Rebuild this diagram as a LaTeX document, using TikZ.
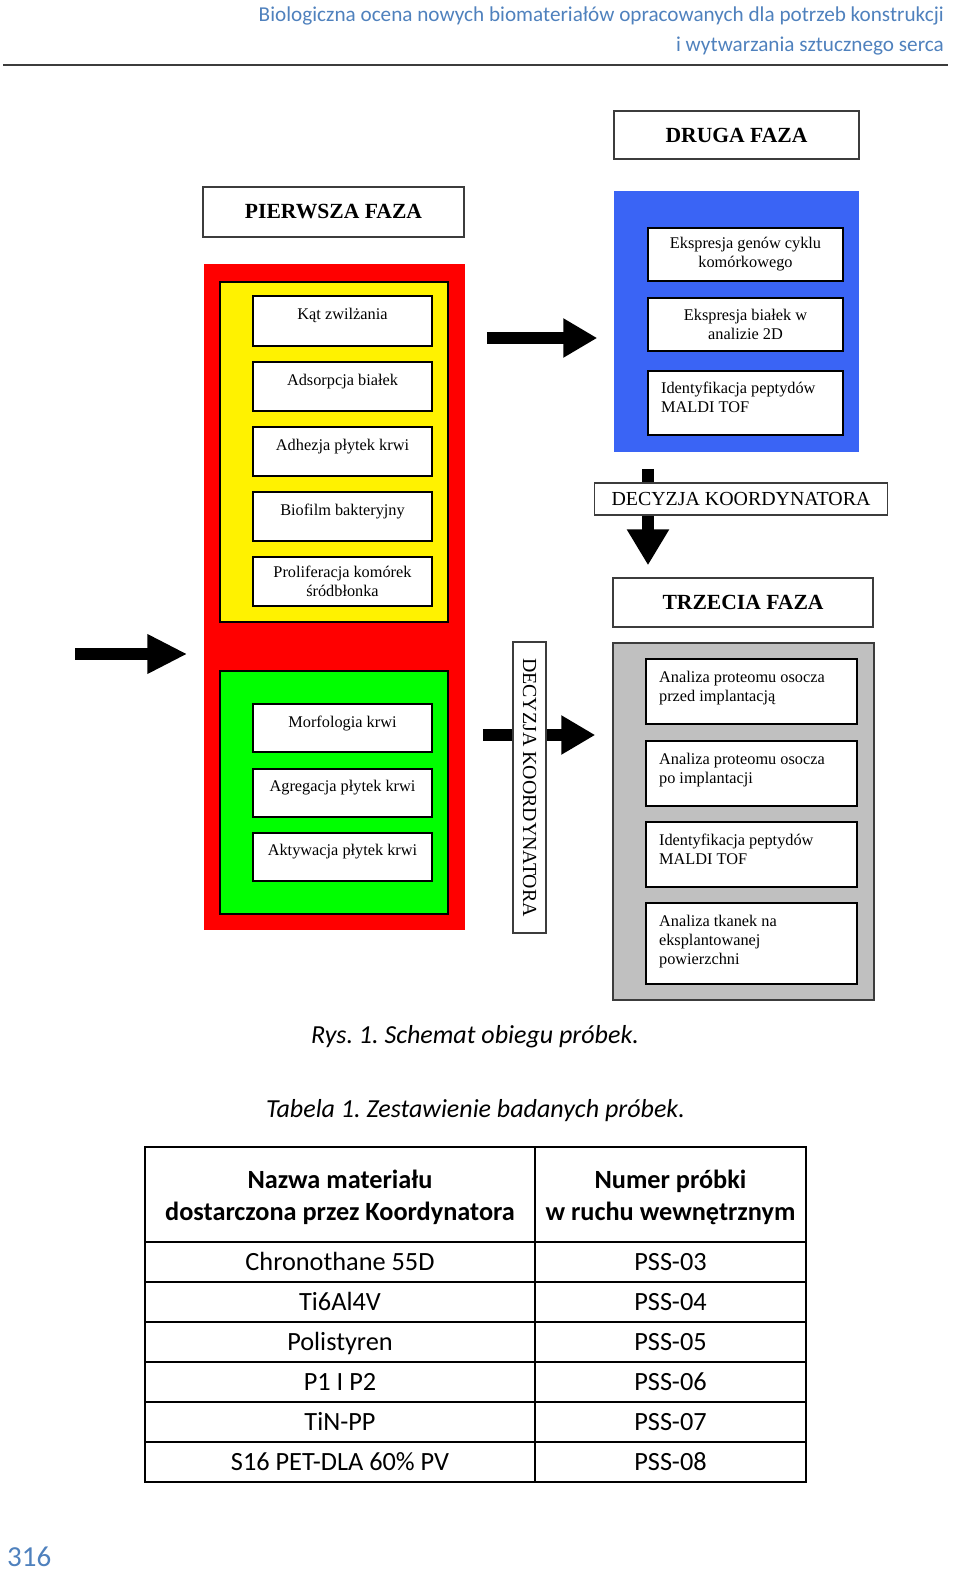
\documentclass[tikz,border=0pt]{standalone}
\usepackage{fontspec}
\setmainfont{Liberation Serif}
\newfontfamily\calibfont{Carlito}
\usetikzlibrary{arrows.meta,positioning}
\frenchspacing

\definecolor{hdrblue}{RGB}{79,129,189}
\definecolor{phaseblue}{RGB}{58,100,245}
\definecolor{phasegray}{RGB}{192,192,192}
\definecolor{edgegray}{RGB}{60,60,60}

\begin{document}
\begin{tikzpicture}[x=1pt,y=-1pt,
    phase/.style={draw=edgegray,line width=1.5pt,fill=white,inner sep=0pt,font=\fontsize{21.6}{24}\selectfont\bfseries},
    panel/.style={line width=1.5pt,inner sep=0pt},
    inbox/.style={draw,line width=2.2pt,fill=white,inner sep=2pt,font=\fontsize{16.3}{19}\selectfont,align=center},
    boxtext/.style={inner sep=0pt,font=\fontsize{16.3}{19}\selectfont},
    decision/.style={draw=edgegray,line width=1.5pt,fill=white,inner sep=2pt,font=\fontsize{19.9}{22}\selectfont},
    blockarrow/.style={line width=12pt,-{Triangle[length=34pt,width=37pt]}},
    hdr/.style={inner sep=0pt,text=hdrblue,font=\calibfont\fontsize{21.2}{24}\selectfont},
    tabtext/.style={inner sep=0pt,font=\calibfont\fontsize{26.3}{32}\selectfont,align=center}]

  \useasboundingbox (0,0) rectangle (960,1581);

  % page header
  \node[hdr,anchor=base east] (hdr1) at (944,22) {Biologiczna ocena nowych biomateriałów opracowanych dla potrzeb konstrukcji};
  \node[hdr,anchor=base east] (hdr2) at (944,52) {i wytwarzania sztucznego serca};
  \draw[edgegray,line width=2pt] (3,65) -- (948,65);

  % first phase
  \node[phase,minimum width=261pt,minimum height=50pt] (faza1) at (333.5,212) {PIERWSZA FAZA};
  \node[panel,fill=red,minimum width=261pt,minimum height=666pt] (red) at (334.5,597) {};
  \node[panel,draw,fill=yellow,minimum width=228pt,minimum height=340pt] (yellow) at (334,452) {};
  \node[panel,draw,fill=green,minimum width=228pt,minimum height=243pt] (green) at (334,792.5) {};

  \node[inbox,minimum width=179pt,minimum height=50pt] (kat) at (342.5,321) {};
  \node[inbox,minimum width=179pt,minimum height=49pt] (adsorp) at (342.5,386.5) {};
  \node[inbox,minimum width=179pt,minimum height=49pt] (adhez) at (342.5,451.5) {};
  \node[inbox,minimum width=179pt,minimum height=49pt] (biofilm) at (342.5,516.5) {};
  \node[inbox,minimum width=179pt,minimum height=49pt] (prolif) at (342.5,581.5) {};
  \node[boxtext,below=13pt of kat.north] (kattxt) {Kąt zwilżania};
  \node[boxtext,below=13pt of adsorp.north] (adsorptxt) {Adsorpcja białek};
  \node[boxtext,below=13pt of adhez.north] (adheztxt) {Adhezja płytek krwi};
  \node[boxtext,below=13pt of biofilm.north] (biofilmtxt) {Biofilm bakteryjny};
  \node[boxtext,align=center,below=10pt of prolif.north] (prolitxt) {Proliferacja komórek\\śródbłonka};

  \node[inbox,minimum width=179pt,minimum height=48pt] (morf) at (342.5,728) {};
  \node[inbox,minimum width=179pt,minimum height=48pt] (agreg) at (342.5,793) {};
  \node[inbox,minimum width=179pt,minimum height=48pt] (aktyw) at (342.5,857) {};
  \node[boxtext,below=12.5pt of morf.north] (morftxt) {Morfologia krwi};
  \node[boxtext,below=12.5pt of agreg.north] (agregtxt) {Agregacja płytek krwi};
  \node[boxtext,below=12.5pt of aktyw.north] (aktywtxt) {Aktywacja płytek krwi};

  % second phase
  \node[phase,minimum width=245pt,minimum height=48pt] (faza2) at (736.5,135) {DRUGA FAZA};
  \node[panel,fill=phaseblue,minimum width=245pt,minimum height=261pt] (blue) at (736.5,321.5) {};
  \node[inbox,minimum width=195pt,minimum height=53pt] (geny) at (745.5,254.5) {Ekspresja genów cyklu\\komórkowego};
  \node[inbox,minimum width=195pt,minimum height=53pt] (bialka) at (745.5,324.5) {Ekspresja białek w\\analizie 2D};
  \node[inbox,minimum width=195pt,minimum height=64pt] (maldi1) at (745.5,403) {};
  \node[boxtext,align=left,below right=12pt and 14pt of maldi1.north west] (maldi1txt) {Identyfikacja peptydów\\MALDI TOF};

  % third phase
  \node[phase,minimum width=260pt,minimum height=49pt] (faza3) at (743,602.5) {TRZECIA FAZA};
  \node[panel,draw=edgegray,fill=phasegray,minimum width=261pt,minimum height=357pt] (gray) at (743.5,821.5) {};
  \node[inbox,minimum width=211pt,minimum height=65pt] (przed) at (751.5,691.5) {};
  \node[inbox,minimum width=211pt,minimum height=65pt] (po) at (751.5,773.5) {};
  \node[inbox,minimum width=211pt,minimum height=65pt] (maldi2) at (751.5,854.5) {};
  \node[inbox,minimum width=211pt,minimum height=81pt] (tkanki) at (751.5,943.5) {};
  \node[boxtext,align=left,below right=13pt and 14pt of przed.north west] (przedtxt) {Analiza proteomu osocza\\przed implantacją};
  \node[boxtext,align=left,below right=13pt and 14pt of po.north west] (potxt) {Analiza proteomu osocza\\po implantacji};
  \node[boxtext,align=left,below right=13pt and 14pt of maldi2.north west] (maldi2txt) {Identyfikacja peptydów\\MALDI TOF};
  \node[boxtext,align=left,below right=13pt and 14pt of tkanki.north west] (tkankitxt) {Analiza tkanek na\\eksplantowanej\\powierzchni};

  % arrows
  \coordinate (wejscie) at (75,654);
  \draw[blockarrow,-{Triangle[length=40pt,width=37pt]},shorten >=16pt] (wejscie) -- (wejscie -| red.west);
  \draw[blockarrow,shorten <=21pt,shorten >=16pt] (red.east |- 0,338) -- (blue.west |- 0,338);
  \draw[blockarrow,-{Triangle[length=36pt,width=40pt]},shorten <=16pt,shorten >=12pt] (648,0 |- blue.south) -- (648,0 |- faza3.north);
  \draw[blockarrow,shorten <=17pt,shorten >=17pt] (red.east |- 0,735) -- (gray.west |- 0,735);

  % coordinator decisions
  \node[decision,minimum width=293pt,minimum height=32pt] (decyzja1) at (741,499) {DECYZJA KOORDYNATORA};
  \node[decision,rotate=-90,minimum width=291pt,minimum height=33pt] (decyzja2) at (529.5,787.5) {DECYZJA KOORDYNATORA};

  % captions
  \node[inner sep=0pt,anchor=base,font=\calibfont\itshape\fontsize{26}{30}\selectfont] (rys) at (475,1043) {Rys. 1. Schemat obiegu próbek.};
  \node[inner sep=0pt,anchor=base,font=\calibfont\itshape\fontsize{26}{30}\selectfont] (tab) at (475.5,1117) {Tabela 1. Zestawienie badanych próbek.};

  % table
  \draw[line width=2pt] (145,1147) rectangle (806,1482);
  \draw[line width=2pt] (535,1147) -- (535,1482);
  \draw[line width=2pt] (145,1242) -- (806,1242);
  \draw[line width=2pt] (145,1282) -- (806,1282);
  \draw[line width=2pt] (145,1322) -- (806,1322);
  \draw[line width=2pt] (145,1362) -- (806,1362);
  \draw[line width=2pt] (145,1402) -- (806,1402);
  \draw[line width=2pt] (145,1442) -- (806,1442);

  \node[tabtext,font=\calibfont\fontsize{26.3}{32}\selectfont\bfseries] (h1) at (340,1197) {Nazwa materiału\\dostarczona przez Koordynatora};
  \node[tabtext,font=\calibfont\fontsize{26.3}{32}\selectfont\bfseries] (h2) at (670.5,1197) {Numer próbki\\w ruchu wewnętrznym};

  \node[tabtext,anchor=base] (m1) at (340,1270) {Chronothane 55D};
  \node[tabtext,anchor=base] (m2) at (340,1310) {Ti6Al4V};
  \node[tabtext,anchor=base] (m3) at (340,1350) {Polistyren};
  \node[tabtext,anchor=base] (m4) at (340,1390) {P1 I P2};
  \node[tabtext,anchor=base] (m5) at (340,1430) {TiN-PP};
  \node[tabtext,anchor=base] (m6) at (340,1470) {S16 PET-DLA 60\% PV};
  \node[tabtext,anchor=base] (p1) at (670.5,1270) {PSS-03};
  \node[tabtext,anchor=base] (p2) at (670.5,1310) {PSS-04};
  \node[tabtext,anchor=base] (p3) at (670.5,1350) {PSS-05};
  \node[tabtext,anchor=base] (p4) at (670.5,1390) {PSS-06};
  \node[tabtext,anchor=base] (p5) at (670.5,1430) {PSS-07};
  \node[tabtext,anchor=base] (p6) at (670.5,1470) {PSS-08};

  % page number
  \node[inner sep=0pt,anchor=base west,text=hdrblue,font=\calibfont\fontsize{29}{30}\selectfont] (strona) at (7,1566) {316};
\end{tikzpicture}
\end{document}
